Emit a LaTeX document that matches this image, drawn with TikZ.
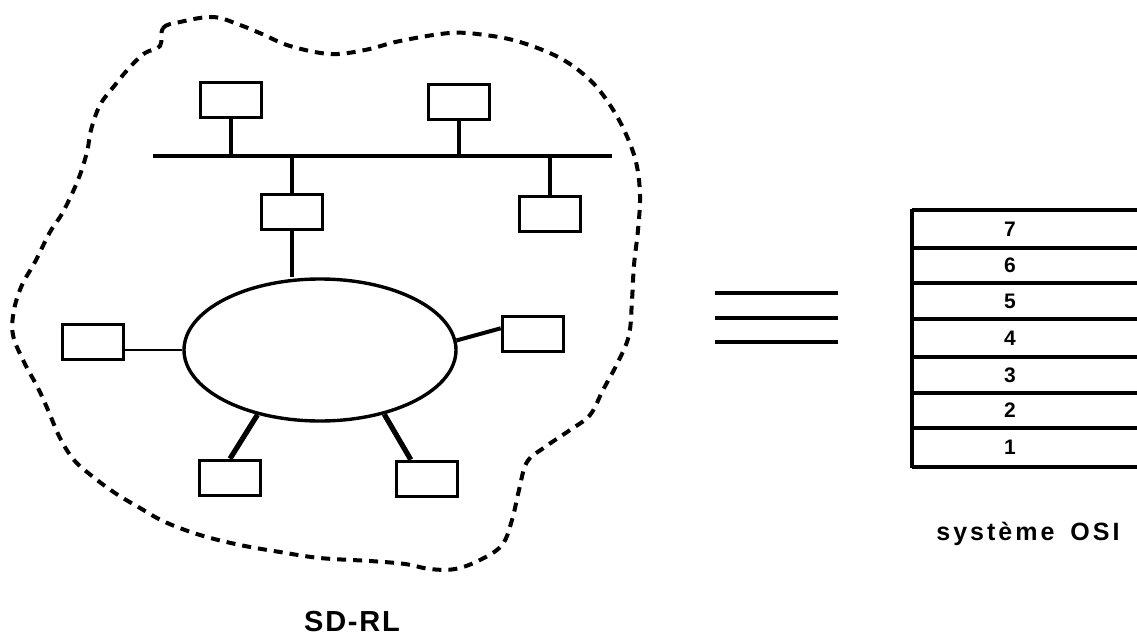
\documentclass[tikz,border=0pt]{standalone}
\usepackage{fontspec}
\setmainfont{Liberation Sans}
\newfontfamily\sdfont[LetterSpace=6]{Liberation Sans}
\newfontfamily\osifont[LetterSpace=12]{Liberation Sans}
\usetikzlibrary{shapes.geometric}

\tikzstyle{station} = [draw, line width=1.8pt, minimum width=30.5pt, minimum height=17.5pt, inner sep=0pt]
\tikzstyle{ring} = [draw, ellipse, line width=1.7pt, minimum width=136pt, minimum height=71pt, inner sep=0pt]
\tikzstyle{wire} = [line width=1.7pt]
\tikzstyle{drop} = [line width=2.6pt]
\tikzstyle{layer} = [font=\fontsize{10.5}{10.5}\bfseries\selectfont, inner sep=0pt]
\tikzstyle{border} = [line width=2pt, dash pattern=on 4.5pt off 3.5pt, line join=round]

\begin{document}
\begin{tikzpicture}[x=0.5pt, y=-0.5pt]
\useasboundingbox (0,0) rectangle (1137,638);

% contour du SD-RL
\draw[border] plot[smooth cycle, tension=0.6] coordinates {
    (160,46) (163,28) (180,22) (213,17) (240,25) (262,34) (290,46) (330,54)
    (365,50) (400,41) (450,33) (485,35) (520,42) (560,58) (590,80) (610,105)
    (625,132) (636,162) (640,195) (638,230) (634,265) (632,300) (629,335)
    (618,362) (603,390) (590,415) (570,430) (545,447) (527,462) (519,490)
    (512,520) (502,545) (480,560) (455,569) (430,569) (405,564) (370,561)
    (320,558) (280,552) (240,545) (200,535) (165,522) (140,508) (115,493)
    (92,476) (74,460) (60,438) (48,410) (38,388) (24,362) (13,335) (14,310)
    (22,285) (35,262) (50,232) (63,212) (78,180) (87,152) (91,130) (100,105)
    (115,85) (130,67) (145,53)};

% bus
\coordinate (busL) at (153,156);
\coordinate (busR) at (612,156);
\draw[wire] (busL) -- (busR);

\node[station] (tl) at (231,100) {};
\node[station] (tr) at (459,102) {};
\node[station] (pont) at (292,212) {};
\node[station] (br) at (550,214) {};
\draw[wire] (tl.south) -- (tl.south |- busL);
\draw[wire] (tr.south) -- (tr.south |- busL);
\draw[wire] (pont.north) -- (pont.north |- busL);
\draw[wire] (br.north) -- (br.north |- busL);

% anneau
\node[ring] (ring) at (320,350) {};
\node[station] (left) at (93,342) {};
\node[station] (right) at (533,334) {};
\node[station] (botL) at (230,478) {};
\node[station] (botR) at (427,479) {};
\draw[wire] (pont.south) -- (pont.south |- ring.north);
\draw[line width=1.4pt] (ring.west) -- (ring.west -| left.east);
\draw[line width=2pt] (ring.4) -- (right.170);
\draw[drop] (ring.226) -- (botL.north);
\draw[drop] (ring.315) -- (botR.130);

% equivalence
\foreach \y in {293,318,342}
    \draw[line width=1.8pt] (715,\y) -- (838,\y);

% pile OSI
\foreach \y in {210,248,283,319,357,393,428,467}
    \draw[line width=1.8pt] (912,\y) -- (1145,\y);
\draw[line width=2.3pt] (912,209) -- (912,468);
\foreach \n/\y in {7/229,6/265.5,5/301,4/338,3/375,2/410.5,1/447.5}
    \node[layer] (c\n) at (1010,\y) {\n};

\node[font=\sdfont\bfseries\fontsize{14.5}{14.5}\selectfont, anchor=base, inner sep=0pt] (sdrl) at (352,631) {SD-RL};
\node[font=\osifont\bfseries\fontsize{12.5}{12.5}\selectfont, anchor=base, inner sep=0pt] (osi) at (1028,540) {système\hspace{8pt}OSI};
\end{tikzpicture}
\end{document}
